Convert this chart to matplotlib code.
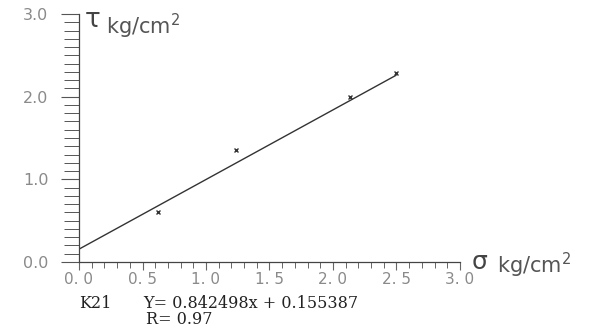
import matplotlib
matplotlib.use("Agg")
import matplotlib.pyplot as plt
import numpy as np
from matplotlib.ticker import MultipleLocator

# data
sigma = [0.62, 1.24, 2.13, 2.50]
tau = [0.60, 1.35, 1.99, 2.29]
slope = 0.842498
intercept = 0.155387
fit_x = [0.0, 2.5]
x_ticks = [0.0, 0.5, 1.0, 1.5, 2.0, 2.5, 3.0]
x_tick_labels = ["0. 0", "0. 5", "1. 0", "1. 5", "2. 0", "2. 5", "3. 0"]
y_ticks = [0.0, 1.0, 2.0, 3.0]
y_tick_labels = ["0.0", "1.0", "2.0", "3.0"]

fig = plt.figure(figsize=(5.95, 3.29), dpi=100)
ax = fig.add_axes([79/595, 1-262/329, (460-79)/595, (262-14)/329])
ax.set_xlim(0, 3.0)
ax.set_ylim(0, 3.0)

for s in ["top", "right"]:
    ax.spines[s].set_visible(False)
for s in ["left", "bottom"]:
    ax.spines[s].set_color("#444444")
    ax.spines[s].set_linewidth(0.9)

fx = np.array(fit_x)
ax.plot(fx, slope*fx + intercept, color="#333333", lw=1.0, solid_capstyle="butt")
ax.plot(sigma, tau, linestyle="none", marker="x", ms=3.5, mew=1.0, color="#333333")

ax.set_xticks(x_ticks)
ax.set_xticklabels(x_tick_labels)
ax.set_yticks(y_ticks)
ax.set_yticklabels(y_tick_labels)
ax.xaxis.set_minor_locator(MultipleLocator(0.1))
ax.yaxis.set_minor_locator(MultipleLocator(0.1))
ax.tick_params(axis="x", which="major", direction="out", length=6, width=0.8,
               color="#666666", labelsize=11, labelcolor="#8a8a8a", pad=1)
ax.tick_params(axis="x", which="minor", direction="out", length=4, width=0.7, color="#666666")
ax.tick_params(axis="y", which="major", direction="out", length=13, width=0.8,
               color="#555555", labelsize=11.5, labelcolor="#8a8a8a", pad=9)
ax.tick_params(axis="y", which="minor", direction="out", length=11, width=0.7, color="#555555")

# axis labels
fig.text(85/595, 1-20/329, "τ", fontsize=19, color="#444444", va="center", ha="left")
fig.text(106/595, 1-26/329, "kg/cm$^2$", fontsize=15, color="#555555", va="center", ha="left")
fig.text(472/595, 1-262/329, "σ", fontsize=18, color="#444444", va="center", ha="left")
fig.text(497/595, 1-265/329, "kg/cm$^2$", fontsize=15, color="#555555", va="center", ha="left")

# equation text
fig.text(79/595, 1-303/329, "K21", fontsize=11.5, family="DejaVu Serif", color="#222222",
         va="center", ha="left")
fig.text(143/595, 1-303/329, "Y= 0.842498x + 0.155387", fontsize=11.5, family="DejaVu Serif",
         color="#222222", va="center", ha="left")
fig.text(146/595, 1-320/329, "R= 0.97", fontsize=11.5, family="DejaVu Serif",
         color="#222222", va="center", ha="left")

fig.savefig("out.png", dpi=100)
